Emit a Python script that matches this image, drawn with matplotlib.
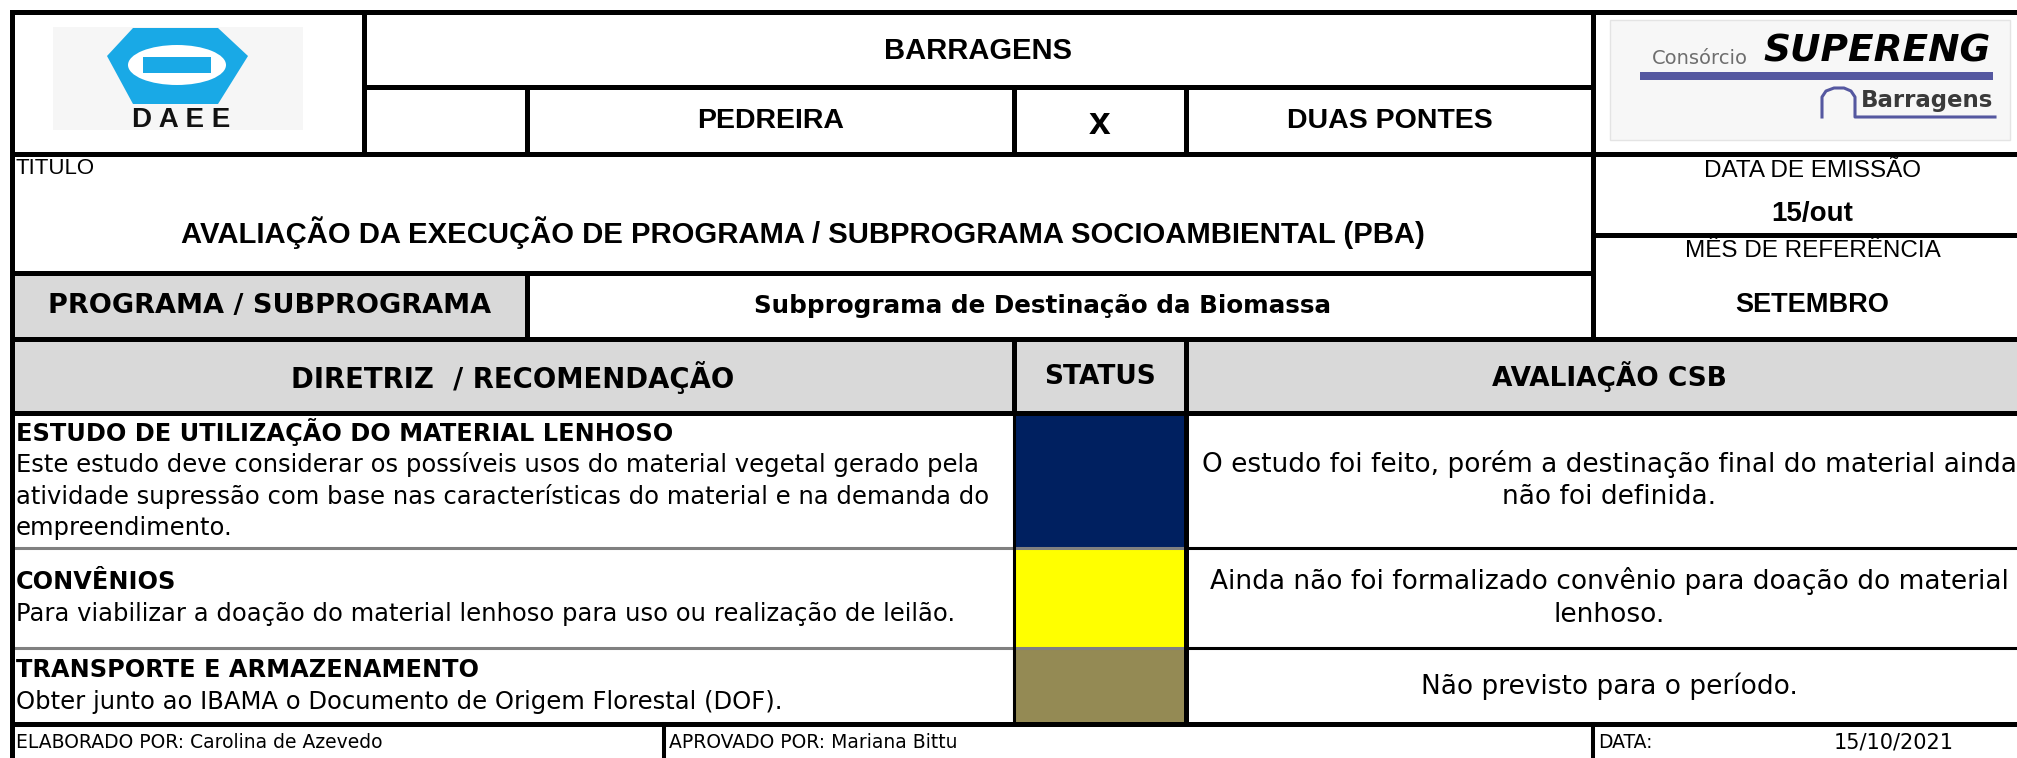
#!/usr/bin/env python3
"""Ficha de avaliacao do PBA - Subprograma de Destinacao da Biomassa."""

import matplotlib

matplotlib.use("Agg")
import matplotlib.pyplot as plt
from matplotlib.patches import Ellipse, Polygon, Rectangle


PROJECT = "BARRAGENS"
DAMS = ("PEDREIRA", "x", "DUAS PONTES")
TITLE_LABEL = "TITULO"
TITLE = "AVALIAÇÃO DA EXECUÇÃO DE PROGRAMA / SUBPROGRAMA SOCIOAMBIENTAL (PBA)"
ISSUE = ("DATA DE EMISSÃO", "15/out")
REFERENCE = ("MÊS DE REFERÊNCIA", "SETEMBRO")
PROGRAM = ("PROGRAMA / SUBPROGRAMA", "Subprograma de Destinação da Biomassa")
HEADERS = ("DIRETRIZ  / RECOMENDAÇÃO", "STATUS", "AVALIAÇÃO CSB")
ITEM_TITLES = [
    "ESTUDO DE UTILIZAÇÃO DO MATERIAL LENHOSO",
    "CONVÊNIOS",
    "TRANSPORTE E ARMAZENAMENTO",
]
ITEM_TEXTS = [
    ["Este estudo deve considerar os possíveis usos do material vegetal gerado pela",
     "atividade supressão com base nas características do material e na demanda do",
     "empreendimento."],
    ["Para viabilizar a doação do material lenhoso para uso ou realização de leilão."],
    ["Obter junto ao IBAMA o Documento de Origem Florestal (DOF)."],
]
STATUS_COLORS = ["#002060", "#FFFF00", "#948A54"]
EVALUATIONS = [
    ["O estudo foi feito, porém a destinação final do material ainda",
     "não foi definida."],
    ["Ainda não foi formalizado convênio para doação do material", "lenhoso."],
    ["Não previsto para o período."],
]
FOOTER = ("ELABORADO POR: Carolina de Azevedo", "APROVADO POR: Mariana Bittu",
          "DATA:", "15/10/2021")

# grid of the sheet, in pixels (y grows downwards)
LEFT, RIGHT, BOTTOM = 12, 2032, 760
X_LOGO, X_PROG, X_STAT, X_EVAL, X_SIDE, X_FOOT = 364, 527, 1014, 1186, 1593, 664
Y_TOP, Y_DAMS, Y_HEAD, Y_ISSUE, Y_TITLE, Y_PROG, Y_COLS = 12, 87, 154, 235, 273, 339, 413
ROW_EDGES = [413, 548, 648, 724]

BODY = "DejaVu Sans"
HEAD = "Liberation Sans"
THICK, THIN = 3.6, 2.2
FILL = "#D9D9D9"
SEP = "#808080"


def line(ax, xs, ys, lw=THICK, color="black"):
  ax.plot(xs, ys, color=color, lw=lw, solid_capstyle="projecting", zorder=3)


def put(ax, x, y, s, size, bold=False, family=BODY, ha="center", **kw):
  ax.text(x, y, s, fontsize=size, fontweight="bold" if bold else "normal",
          family=family, ha=ha, va="center", zorder=4, **kw)


def draw_daee(ax):
  ax.add_patch(Rectangle((53, 27), 250, 103, fc="#F6F6F6", ec="none"))
  blue = "#19A9E6"
  ax.add_patch(Polygon([(133, 28), (218, 28), (248, 56), (218, 104), (133, 104), (107, 56)],
                       closed=True, fc=blue, ec="none"))
  ax.add_patch(Ellipse((177, 65), 98, 40, fc="white", ec="none"))
  ax.add_patch(Rectangle((143, 57), 68, 16, fc=blue, ec="none"))
  put(ax, 181, 120, "D A E E", 20, bold=True, family=HEAD, color="#111111")


def draw_supereng(ax):
  ax.add_patch(Rectangle((1610, 20), 400, 120, fc="#F7F7F7", ec="#E4E4E4", lw=1))
  put(ax, 1700, 58, "Consórcio", 14, color="#6E6E6E", ha="center")
  put(ax, 1763, 51, "SUPERENG", 27, bold=True, ha="left", style="italic", color="black")
  ax.add_patch(Rectangle((1640, 72), 353, 8, fc="#5558A0", ec="none"))
  arch_x = [1822, 1822, 1826, 1834, 1844, 1851, 1855, 1855, 1995]
  arch_y = [117, 97, 91, 88, 88, 91, 97, 117, 117]
  ax.plot(arch_x, arch_y, color="#5558A0", lw=2.2, zorder=3)
  put(ax, 1861, 101, "Barragens", 16.5, bold=True, ha="left", color="#3A3A3A")


def main():
  fig = plt.figure(figsize=(20.17, 7.58), dpi=100)
  ax = fig.add_axes([0, 0, 1, 1])
  ax.set_xlim(0, 2017)
  ax.set_ylim(758, 0)
  ax.axis("off")

  # fills
  ax.add_patch(Rectangle((LEFT, Y_TITLE), X_PROG - LEFT, Y_PROG - Y_TITLE, fc=FILL, ec="none"))
  ax.add_patch(Rectangle((LEFT, Y_PROG), RIGHT - LEFT, Y_COLS - Y_PROG, fc=FILL, ec="none"))
  for i, color in enumerate(STATUS_COLORS):
    top, bottom = ROW_EDGES[i], ROW_EDGES[i + 1]
    ax.add_patch(Rectangle((X_STAT, top), X_EVAL - X_STAT, bottom - top, fc=color, ec="none"))

  # horizontal rules
  for y in (Y_TOP, Y_HEAD, Y_PROG, Y_COLS, ROW_EDGES[-1]):
    line(ax, [LEFT, RIGHT], [y, y])
  line(ax, [X_LOGO, X_SIDE], [Y_DAMS, Y_DAMS])
  line(ax, [LEFT, X_SIDE], [Y_TITLE, Y_TITLE])
  line(ax, [X_SIDE, RIGHT], [Y_ISSUE, Y_ISSUE])
  for y in ROW_EDGES[1:-1]:
    line(ax, [LEFT, X_EVAL], [y, y], lw=THIN, color=SEP)
    line(ax, [X_EVAL, RIGHT], [y, y], lw=THIN)

  # vertical rules
  line(ax, [LEFT, LEFT], [Y_TOP, BOTTOM])
  line(ax, [X_LOGO, X_LOGO], [Y_TOP, Y_HEAD])
  line(ax, [X_SIDE, X_SIDE], [Y_TOP, Y_PROG])
  line(ax, [X_PROG, X_PROG], [Y_DAMS, Y_HEAD])
  line(ax, [X_PROG, X_PROG], [Y_TITLE, Y_PROG])
  for x in (X_STAT, X_EVAL):
    line(ax, [x, x], [Y_DAMS, Y_HEAD])
  line(ax, [X_STAT, X_STAT], [Y_PROG, Y_COLS])
  line(ax, [X_STAT, X_STAT], [Y_COLS, ROW_EDGES[-1]], lw=THIN)
  line(ax, [X_EVAL, X_EVAL], [Y_PROG, ROW_EDGES[-1]])
  for x in (X_FOOT, X_SIDE):
    line(ax, [x, x], [ROW_EDGES[-1], BOTTOM], lw=2.9)

  draw_daee(ax)
  draw_supereng(ax)

  # header block
  put(ax, (X_LOGO + X_SIDE) / 2, 51, PROJECT, 21, bold=True, family=HEAD)
  put(ax, (X_PROG + X_STAT) / 2, 121, DAMS[0], 20.5, bold=True, family=HEAD)
  put(ax, (X_STAT + X_EVAL) / 2, 124, DAMS[1], 28, bold=True, family=HEAD)
  put(ax, (X_EVAL + X_SIDE) / 2, 121, DAMS[2], 20.5, bold=True, family=HEAD)
  put(ax, LEFT + 4, 169, TITLE_LABEL, 16, family=HEAD, ha="left")
  put(ax, (LEFT + X_SIDE) / 2, 233, TITLE, 21.1, bold=True, family=HEAD)

  side = (X_SIDE + RIGHT) / 2
  put(ax, side, 171, ISSUE[0], 17.5, family=HEAD)
  put(ax, side, 214, ISSUE[1], 20, bold=True, family=HEAD)
  put(ax, side, 251, REFERENCE[0], 17.5, family=HEAD)
  put(ax, side, 305, REFERENCE[1], 19.5, bold=True, family=HEAD)

  put(ax, (LEFT + X_PROG) / 2, 306, PROGRAM[0], 19.5, bold=True)
  put(ax, 1042, 306, PROGRAM[1], 17.7, bold=True)

  centers = [(LEFT + X_STAT) / 2, (X_STAT + X_EVAL) / 2, (X_EVAL + RIGHT) / 2]
  for cx, label, size in zip(centers, HEADERS, (19.8, 19, 19)):
    put(ax, cx, 377, label, size, bold=True)

  # table rows
  for i in range(len(ITEM_TITLES)):
    mid = (ROW_EDGES[i] + ROW_EDGES[i + 1]) / 2
    lines = [ITEM_TITLES[i]] + ITEM_TEXTS[i]
    for j, s in enumerate(lines):
      y = mid + (j - (len(lines) - 1) / 2) * 32
      put(ax, LEFT + 4, y, s, 17.3 if j == 0 else 17.5, bold=(j == 0), ha="left")
    evals = EVALUATIONS[i]
    for j, s in enumerate(evals):
      y = mid + (j - (len(evals) - 1) / 2) * 34
      put(ax, centers[2], y, s, 19)

  # footer
  put(ax, LEFT + 4, 742, FOOTER[0], 13.5, ha="left")
  put(ax, X_FOOT + 5, 742, FOOTER[1], 13.5, ha="left")
  put(ax, X_SIDE + 5, 742, FOOTER[2], 13.5, ha="left")
  put(ax, 1894, 742, FOOTER[3], 15)

  fig.savefig("out.png", dpi=100)
  plt.close(fig)


if __name__ == "__main__":
  main()
